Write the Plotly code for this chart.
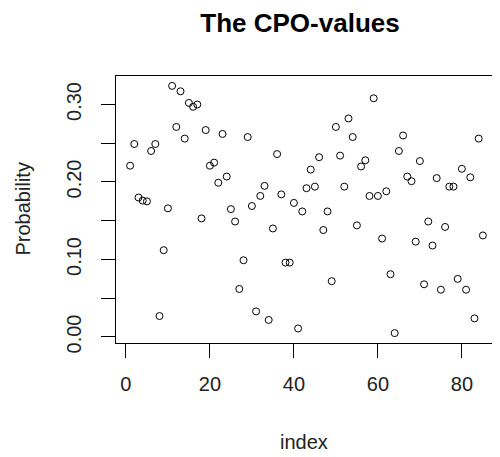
import plotly.graph_objects as go

index = list(range(1, 86))
probability = [
    0.221, 0.249, 0.180, 0.176, 0.175, 0.240, 0.249, 0.027, 0.112, 0.166,
    0.324, 0.271, 0.317, 0.256, 0.302, 0.297, 0.300, 0.153, 0.267, 0.221,
    0.225, 0.199, 0.262, 0.207, 0.165, 0.149, 0.062, 0.099, 0.258, 0.169,
    0.033, 0.182, 0.195, 0.022, 0.140, 0.236, 0.184, 0.096, 0.096, 0.173,
    0.011, 0.162, 0.192, 0.216, 0.194, 0.232, 0.138, 0.162, 0.072, 0.271,
    0.234, 0.194, 0.282, 0.258, 0.144, 0.220, 0.228, 0.182, 0.308, 0.182,
    0.127, 0.188, 0.081, 0.005, 0.240, 0.260, 0.207, 0.201, 0.123, 0.227,
    0.068, 0.149, 0.118, 0.205, 0.061, 0.142, 0.194, 0.194, 0.075, 0.217,
    0.061, 0.206, 0.024, 0.256, 0.131,
]
x_ticks = [0, 20, 40, 60, 80]
y_ticks = [0.00, 0.05, 0.10, 0.15, 0.20, 0.25, 0.30]
y_ticktext = ["0.00", "", "0.10", "", "0.20", "", "0.30"]

def r_range(v):
    lo, hi = min(v), max(v)
    d = (hi - lo) * 0.04
    return [lo - d, hi + d]

FONT = "Liberation Sans, Arial, sans-serif"
W, H = 492, 449          # page body has an 8px margin
L, R, T, B = 108, 3, 68, 114
PW, PH = W - L - R, H - T - B

fig = go.Figure()
fig.add_trace(go.Scatter(
    x=index, y=probability, mode="markers",
    marker=dict(symbol="circle-open", size=7, color="black", line=dict(width=1, color="black")),
    showlegend=False,
))

axis_common = dict(
    showline=True, mirror=True, linecolor="black", linewidth=1,
    ticks="outside", ticklen=14, tickcolor="black", tickwidth=1,
    showgrid=False, zeroline=False,
    tickfont=dict(family=FONT, size=20, color="#222"),
)
fig.update_xaxes(range=r_range(index), tickvals=x_ticks, ticklabelstandoff=9, **axis_common)
fig.update_yaxes(range=r_range(probability), tickvals=y_ticks, ticktext=y_ticktext,
                 tickangle=-90, ticklabelstandoff=12, **axis_common)

fig.update_layout(
    width=W, height=H,
    margin=dict(l=L, r=R, t=T, b=B),
    plot_bgcolor="white", paper_bgcolor="white",
    title=dict(text="<b>The CPO-values</b>", x=292 / W, xref="container", y=1 - 15 / H,
               yref="container", yanchor="middle", xanchor="center",
               font=dict(family=FONT, size=26, color="black")),
    annotations=[
        dict(text="index", xref="paper", yref="paper", x=(296 - L) / PW, y=-(433.7 - (T + PH)) / PH,
             xanchor="center", yanchor="middle", showarrow=False,
             font=dict(family=FONT, size=20, color="#222")),
        dict(text="Probability", xref="paper", yref="paper", x=-(L - 14) / PW, y=0.5,
             xanchor="center", yanchor="middle", showarrow=False, textangle=-90,
             font=dict(family=FONT, size=20, color="#222")),
    ],
)
fig.write_html("out.html")
